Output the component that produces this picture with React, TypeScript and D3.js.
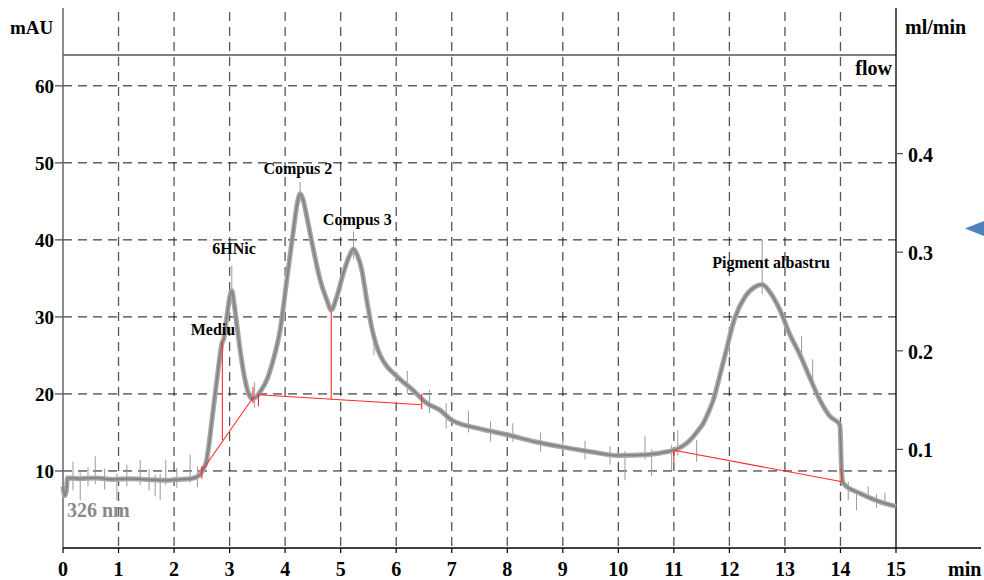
import React from "react";
import * as d3 from "d3";

// ---- data ----
const traceTime = [0.0, 0.03, 0.06, 0.08, 0.3, 0.6, 0.9, 1.2, 1.5, 1.8, 2.1, 2.3, 2.45, 2.52, 2.58, 2.63, 2.68, 2.74, 2.8, 2.86, 2.9, 2.95, 3.0, 3.04, 3.08, 3.13, 3.19, 3.26, 3.33, 3.4, 3.48, 3.55, 3.67, 3.8, 3.91, 4.03, 4.15, 4.22, 4.27, 4.32, 4.39, 4.51, 4.63, 4.75, 4.83, 4.93, 5.05, 5.15, 5.23, 5.3, 5.38, 5.47, 5.56, 5.64, 5.72, 5.82, 5.95, 6.07, 6.3, 6.55, 6.79, 7.0, 7.5, 8.0, 8.5, 9.0, 9.5, 10.0, 10.5, 10.8, 11.0, 11.15, 11.29, 11.41, 11.53, 11.62, 11.71, 11.8, 11.92, 12.1, 12.28, 12.46, 12.59, 12.73, 12.91, 13.09, 13.27, 13.45, 13.63, 13.81, 13.99, 14.02, 14.05, 14.35, 14.71, 15.0];
const traceMAU = [8.0, 6.8, 7.4, 9.1, 9.0, 9.1, 8.9, 9.0, 8.9, 8.8, 8.9, 9.0, 9.4, 10.2, 11.2, 13.5, 16.5, 20.0, 23.5, 26.5, 27.3, 30.0, 32.5, 33.4, 31.8, 29.0, 25.7, 22.5, 20.3, 19.4, 19.6, 20.3, 21.8, 24.8, 28.3, 34.8, 41.3, 44.8, 46.0, 45.3, 43.0, 38.7, 34.8, 32.2, 30.9, 32.6, 35.7, 37.8, 38.8, 38.0, 36.1, 32.2, 28.6, 26.4, 24.9, 23.7, 22.7, 21.9, 20.5, 18.8, 17.9, 16.6, 15.5, 14.7, 13.8, 13.1, 12.5, 12.0, 12.1, 12.4, 12.7, 13.2, 14.0, 15.0, 16.2, 17.6, 19.2, 21.6, 25.0, 29.9, 32.6, 33.9, 34.2, 33.2, 30.9, 27.7, 25.1, 22.1, 19.2, 17.1, 16.0, 10.0, 8.4, 7.1, 6.0, 5.4];

// noise spikes: time, low, high (mAU)
const spikeTime = [0.18, 0.31, 0.45, 0.58, 0.75, 0.97, 1.15, 1.39, 1.55, 1.66, 1.75, 1.85, 2.05, 2.29, 2.42, 3.04, 3.45, 4.27, 5.23, 5.6, 6.2, 6.6, 6.9, 7.3, 7.7, 8.1, 8.6, 9.0, 9.4, 9.85, 10.12, 10.48, 10.6, 10.96, 11.07, 11.41, 12.0, 12.59, 13.3, 13.5, 14.14, 14.29, 14.5, 14.65, 14.8];
const spikeLow = [7.5, 6.2, 8.0, 8.3, 7.6, 6.2, 8.0, 8.2, 7.5, 6.7, 6.2, 8.2, 7.8, 8.5, 7.9, 32.0, 18.2, 45.0, 37.5, 25.0, 20.0, 17.5, 15.5, 15.0, 13.8, 13.8, 12.5, 12.2, 11.5, 10.8, 8.8, 11.5, 9.3, 10.1, 12.0, 11.2, 25.0, 33.0, 24.0, 21.0, 6.2, 4.9, 6.5, 5.2, 5.5];
const spikeHigh = [11.2, 9.8, 10.5, 11.9, 10.3, 9.6, 10.8, 11.4, 10.2, 9.5, 9.6, 11.4, 10.4, 12.1, 10.6, 36.7, 21.5, 47.5, 41.1, 28.5, 23.0, 20.5, 18.8, 17.8, 16.5, 16.2, 15.0, 14.5, 13.9, 13.2, 12.6, 14.5, 12.8, 13.4, 15.3, 14.0, 28.0, 40.0, 27.5, 24.5, 8.6, 7.4, 8.0, 7.0, 7.2];

// red integration lines: t1, v1, t2, v2
const redT1 = [2.87, 2.5, 2.5, 3.42, 3.52, 3.52, 6.46, 4.83, 11.0, 11.0, 14.03];
const redV1 = [26.8, 10.0, 9.0, 18.8, 18.4, 19.9, 18.0, 30.7, 12.7, 11.2, 8.6];
const redT2 = [2.87, 3.42, 2.5, 3.42, 3.52, 6.46, 6.46, 4.83, 14.03, 11.0, 14.01];
const redV2 = [14.0, 19.5, 10.6, 20.9, 20.0, 18.6, 20.0, 19.3, 8.6, 12.7, 10.3];

const peakNames = ["Mediu", "6HNic", "Compus 2", "Compus 3", "Pigment albastru"];
const peakLabelT = [2.3, 3.08, 4.23, 5.3, 12.75];
const peakLabelV = [27.6, 38.2, 48.55, 41.9, 36.3];

const xTicks = d3.range(0, 16);
const yTicks = [10, 20, 30, 40, 50, 60];
const flowTicks = [0.1, 0.2, 0.3, 0.4];

const FONT = "'Liberation Serif', 'Times New Roman', serif";

export default function App() {
  const left = 63, right = 896, top = 55, bottom = 548;
  const x = d3.scaleLinear().domain([0, 15]).range([left, right]);
  const y = d3.scaleLinear().domain([0, 64]).range([bottom, top]);
  const yFlow = d3.scaleLinear().domain([0, 0.5]).range([bottom, top]);

  const pts: [number, number][] = traceTime.map((t, i) => [t, traceMAU[i]]);
  const line = d3.line<[number, number]>().x(d => x(d[0])).y(d => y(d[1])).curve(d3.curveMonotoneX);
  const d = line(pts) || "";

  return (
    <svg width={984} height={580} style={{ position: "absolute", left: 0, top: 0, background: "#fff" }}
      fontFamily={FONT} fontWeight="bold">
      {/* vertical grid */}
      {xTicks.filter(t => t > 0 && t < 15).map(t => (
        <line key={"vg" + t} x1={x(t)} x2={x(t)} y1={12} y2={bottom} stroke="#555" strokeWidth={1.3} strokeDasharray="9,6" />
      ))}
      {/* horizontal grid */}
      {yTicks.map(v => (
        <line key={"hg" + v} x1={left} x2={right} y1={y(v)} y2={y(v)} stroke="#111" strokeWidth={1} strokeDasharray="9,6" />
      ))}
      {/* top line */}
      <line x1={left} x2={right} y1={top} y2={top} stroke="#000" strokeWidth={1.2} />
      {/* axes */}
      <line x1={left} x2={left} y1={8} y2={bottom} stroke="#666" strokeWidth={1.5} />
      <line x1={right} x2={right} y1={8} y2={bottom} stroke="#000" strokeWidth={1.3} />
      <line x1={left} x2={981} y1={bottom} y2={bottom} stroke="#000" strokeWidth={1.3} />

      {/* trace spikes */}
      {spikeTime.map((t, i) => (
        <line key={"sp" + i} x1={x(t)} x2={x(t)} y1={y(spikeLow[i])} y2={y(spikeHigh[i])} stroke="#9a9a9a" strokeWidth={1} />
      ))}
      {/* trace: fuzzy band + core */}
      <path d={d} fill="none" stroke="#a8a8a8" strokeWidth={5} strokeLinejoin="round" />
      <path d={d} fill="none" stroke="#858585" strokeWidth={2} strokeLinejoin="round" />

      {/* red lines */}
      {redT1.map((t, i) => (
        <line key={"r" + i} x1={x(t)} y1={y(redV1[i])} x2={x(redT2[i])} y2={y(redV2[i])} stroke="#ff2a2a" strokeWidth={1.1} />
      ))}

      {/* peak labels */}
      {peakNames.map((n, i) => (
        <text key={n} x={x(peakLabelT[i])} y={y(peakLabelV[i])} fontSize={16} fill="#000"
          textAnchor={i === 0 ? "start" : "middle"}>{n}</text>
      ))}

      {/* left ticks */}
      {yTicks.map(v => (
        <g key={"yt" + v}>
          <line x1={55} x2={left} y1={y(v)} y2={y(v)} stroke="#555" strokeWidth={1.3} />
          <text x={54} y={y(v) + 7} fontSize={19} textAnchor="end" fill="#000">{v}</text>
        </g>
      ))}
      {/* bottom ticks */}
      {xTicks.map(t => (
        <g key={"xt" + t}>
          <line x1={x(t)} x2={x(t)} y1={bottom} y2={bottom + 5} stroke="#000" strokeWidth={1.2} />
          <text x={x(t)} y={576} fontSize={20} textAnchor="middle" fill="#000">{t}</text>
        </g>
      ))}
      {/* right ticks */}
      {flowTicks.map(f => (
        <g key={"ft" + f}>
          <line x1={right} x2={right + 7} y1={yFlow(f)} y2={yFlow(f)} stroke="#555" strokeWidth={1.3} />
          <text x={908} y={yFlow(f) + 8} fontSize={20} fill="#000">{f.toFixed(1)}</text>
        </g>
      ))}

      <text x={10} y={34} fontSize={19} fill="#000">mAU</text>
      <text x={905} y={34} fontSize={20} fill="#000">ml/min</text>
      <text x={892} y={75} fontSize={20} textAnchor="end" fill="#000">flow</text>
      <text x={948} y={576} fontSize={20} fill="#000">min</text>
      <text x={67} y={517} fontSize={20} fill="#8a8a8a">326 nm</text>

      {/* blue marker */}
      <polygon points="965,228.5 984,221 984,236" fill="#4f81bd" />
    </svg>
  );
}
